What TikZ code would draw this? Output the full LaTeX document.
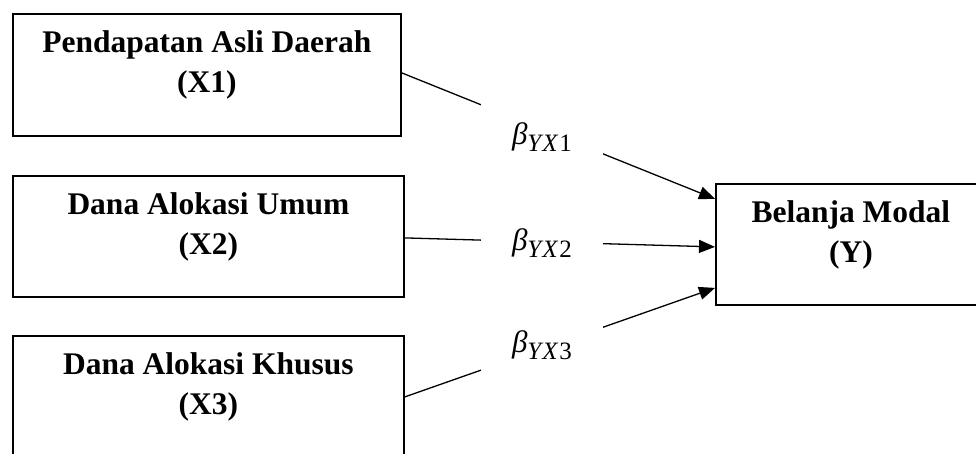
\documentclass[tikz,border=0pt]{standalone}
\usepackage{fontspec}
\setmainfont{Liberation Serif}
\usetikzlibrary{arrows.meta,calc}
\newcommand{\coefsym}[1]{\textit{β}\raisebox{-0.22em}{\fontsize{25}{25}\selectfont\textit{Y\kern1pt X}\kern1pt#1}}
\begin{document}
\begin{tikzpicture}[x=1pt,y=-1pt,
  varbox/.style={draw, line width=1.8pt, rectangle, anchor=north west, inner sep=0pt},
  vartext/.style={font=\fontsize{31.5}{40}\selectfont\bfseries, align=center, inner sep=0pt},
  conn/.style={line width=1.3pt, -{Triangle[length=16pt,width=13pt]}},
  coef/.style={fill=white, minimum width=122pt, minimum height=66pt, inner sep=0pt, font=\fontsize{31}{32}\selectfont}]
\useasboundingbox (0,0) rectangle (976,453);

\node[varbox, minimum width=388pt, minimum height=122pt] (b1) at (12,13) {};
\node[varbox, minimum width=391pt, minimum height=121pt] (b2) at (12,175) {};
\node[varbox, minimum width=391pt, minimum height=121pt] (b3) at (12,335) {};
\node[varbox, minimum width=270pt, minimum height=121pt] (y) at (715,183) {};

\node[vartext] (t1) at ($(b1.north)+(0,52)$) {Pendapatan Asli Daerah\\(X1)};
\node[vartext] (t2) at ($(b2.north)+(0,52)$) {Dana Alokasi Umum\\(X2)};
\node[vartext] (t3) at ($(b3.north)+(0,52)$) {Dana Alokasi Khusus\\(X3)};
\node[vartext] (ty) at ($(y.north)+(0,52)$) {Belanja Modal\\(Y)};

\coordinate (s1) at ($(b1.east)+(0,-2)$);
\coordinate (s2) at ($(b2.east)+(0,1.5)$);
\coordinate (s3) at ($(b3.east)+(0,0.5)$);
\coordinate (e1) at ($(y.west)+(0,-45.5)$);
\coordinate (e2) at ($(y.west)+(0,2.5)$);
\coordinate (e3) at ($(y.west)+(0,43.5)$);

\draw[conn] (s1) -- (e1);
\draw[conn] (s2) -- (e2);
\draw[conn] (s3) -- (e3);

\node[coef] (c1) at (542,137) {\coefsym{1}};
\node[coef] (c2) at (542,243) {\coefsym{2}};
\node[coef] (c3) at (542,345) {\coefsym{3}};
\end{tikzpicture}
\end{document}
